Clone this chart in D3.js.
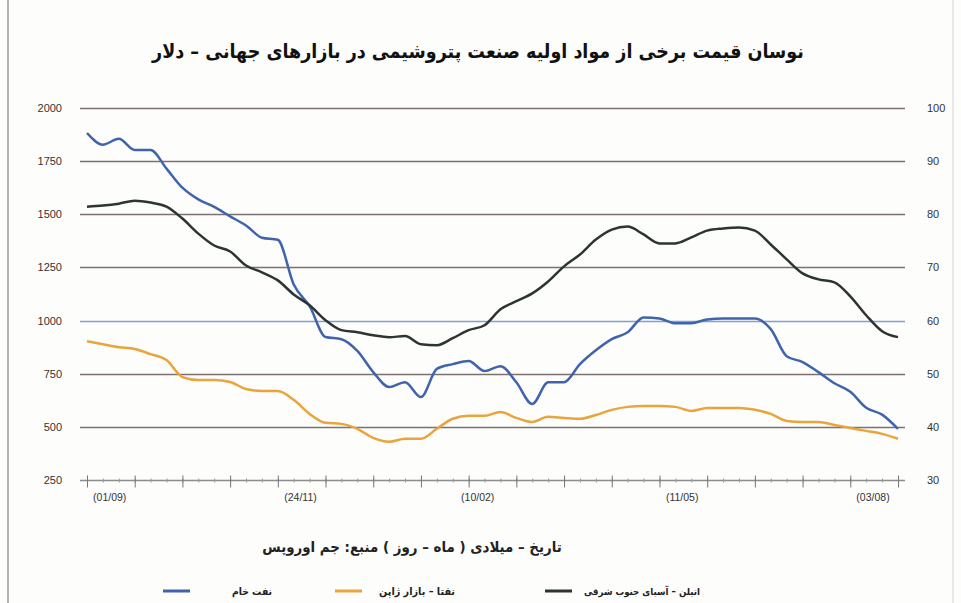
<!DOCTYPE html>
<html>
<head>
<meta charset="utf-8">
<script src="https://cdn.jsdelivr.net/npm/d3@7"></script>
<style>
    body { margin: 0; background: #fff; }
    svg { display: block; }
</style>
</head>
<body>
<div id="chart"></div>
<script>
// weekly observations
const dates = [
    '2014-08-22', '2014-08-29', '2014-09-05', '2014-09-12', '2014-09-19', '2014-09-26',
    '2014-10-03', '2014-10-10', '2014-10-17', '2014-10-24', '2014-10-31', '2014-11-07',
    '2014-11-14', '2014-11-21', '2014-11-28', '2014-12-05', '2014-12-12', '2014-12-19',
    '2014-12-26', '2015-01-02', '2015-01-09', '2015-01-16', '2015-01-23', '2015-01-30',
    '2015-02-06', '2015-02-13', '2015-02-20', '2015-02-27', '2015-03-06', '2015-03-13',
    '2015-03-20', '2015-03-27', '2015-04-03', '2015-04-10', '2015-04-17', '2015-04-24',
    '2015-05-01', '2015-05-08', '2015-05-15', '2015-05-22', '2015-05-29', '2015-06-05',
    '2015-06-12', '2015-06-19', '2015-06-26', '2015-07-03', '2015-07-10', '2015-07-17',
    '2015-07-24', '2015-07-31', '2015-08-07', '2015-08-14'
];

// ethylene, south-east Asia ($/t, left axis)
const ethylene = [
    1536, 1541, 1550, 1564, 1555, 1536, 1480, 1409, 1353, 1325, 1259, 1227,
    1189, 1123, 1072, 1002, 955, 945, 931, 922, 927, 889, 884, 917,
    955, 978, 1053, 1091, 1128, 1184, 1255, 1311, 1381, 1428, 1442, 1405,
    1363, 1363, 1391, 1423, 1433, 1438, 1423, 1358, 1288, 1222, 1194, 1180,
    1114, 1025, 950, 922
];

// naphtha, Japan ($/t, left axis)
const naphtha = [
    903, 889, 875, 866, 842, 814, 734, 720, 720, 711, 678, 669,
    669, 627, 561, 519, 514, 491, 448, 430, 444, 444, 491, 538,
    552, 552, 570, 542, 523, 547, 542, 538, 556, 580, 594, 598,
    598, 594, 575, 589, 589, 589, 580, 561, 528, 523, 523, 509,
    495, 481, 467, 444
];

// crude oil ($/bbl, right axis)
const crude = [
    95.3, 93.1, 94.2, 92.1, 92.1, 88.6, 85.0, 82.8, 81.4, 79.6, 77.9, 75.6,
    75.2, 66.8, 62.7, 56.9, 56.5, 54.3, 50.3, 47.5, 48.4, 45.6, 50.9, 51.8,
    52.4, 50.5, 51.4, 48.4, 44.3, 48.4, 48.4, 51.8, 54.4, 56.5, 57.8, 60.6,
    60.4, 59.5, 59.5, 60.2, 60.4, 60.4, 60.4, 58.4, 53.3, 52.2, 50.3, 48.2,
    46.6, 43.6, 42.3, 39.6
];

const leftTicks = [250, 500, 750, 1000, 1250, 1500, 1750, 2000];
const rightTicks = [30, 40, 50, 60, 70, 80, 90, 100];
const xLabelDates = ['2014-09-01', '2014-11-24', '2015-02-10', '2015-05-11', '2015-08-03'];
const xLabels = ['01/09', '24/11', '10/02', '11/05', '03/08'];

const title = 'نوسان قیمت برخی از مواد اولیه صنعت پتروشیمی در بازارهای جهانی – دلار';
const note = 'تاریخ – میلادی  ( ماه – روز )     منبع: جم اوروپس';
const seriesNames = ['اتیلن – آسیای جنوب شرقی', 'نفتا – بازار ژاپن', 'نفت خام'];
const seriesColors = ['#2c3531', '#e9a43c', '#4064ab'];

const width = 961,
    height = 603,
    margins = { left: 87, right: 63, top: 108, bottom: 123 };

const parse = d3.timeParse('%Y-%m-%d');
const days = dates.map(parse);

const svg = d3.select('#chart').append('svg')
    .attr('width', width)
    .attr('height', height)
    .style('font-family', '"Liberation Sans", Arial, sans-serif');

svg.append('rect')
    .attr('width', width)
    .attr('height', height)
    .attr('fill', '#fdfdfc');

// page border
svg.append('line')
    .attr('x1', 8).attr('x2', 8).attr('y1', 0).attr('y2', height)
    .attr('stroke', '#9a9a9a').attr('stroke-width', 1.5);
svg.append('line')
    .attr('x1', 953).attr('x2', 953).attr('y1', 0).attr('y2', height)
    .attr('stroke', '#d4d4d4').attr('stroke-width', 1);

const x = d3.scaleTime()
    .domain(d3.extent(days))
    .range([margins.left, width - margins.right - 0]);

const yLeft = d3.scaleLinear()
    .domain([250, 2000])
    .range([height - margins.bottom + 0, margins.top]);

const yRight = d3.scaleLinear()
    .domain([30, 100])
    .range(yLeft.range());

// gridlines
const grid = svg.append('g').attr('class', 'grid');
grid.selectAll('line')
    .data(leftTicks)
    .enter().append('line')
    .attr('x1', 80)
    .attr('x2', 905)
    .attr('y1', d => Math.round(yLeft(d)) + 0.5)
    .attr('y2', d => Math.round(yLeft(d)) + 0.5)
    .attr('stroke', d => d === 1000 ? '#7f9fd6' : (d === 250 ? '#8d8d8d' : '#7e7070'))
    .attr('stroke-width', 1.4);

// left labels
svg.append('g')
    .selectAll('text')
    .data(leftTicks)
    .enter().append('text')
    .attr('x', 62)
    .attr('y', d => yLeft(d) + 4)
    .attr('text-anchor', 'end')
    .attr('font-size', 11)
    .attr('fill', '#333')
    .text(d => d);

// right labels
svg.append('g')
    .selectAll('text')
    .data(rightTicks)
    .enter().append('text')
    .attr('x', 927)
    .attr('y', d => yRight(d) + 4)
    .attr('font-size', 11)
    .attr('fill', '#333')
    .text(d => d);

// x axis: weekly minor ticks, three-weekly major ticks
const axisY = Math.round(yLeft(250)) + 0.5;

const minorAxis = d3.axisBottom(x)
    .tickValues(days)
    .tickSize(4)
    .tickFormat('');

svg.append('g')
    .attr('transform', 'translate(0, ' + (axisY - 2) + ')')
    .call(minorAxis)
    .call(g => g.select('.domain').remove())
    .selectAll('line').attr('stroke', '#9a9a9a');

const majorAxis = d3.axisBottom(x)
    .tickValues(days.filter((d, i) => i % 3 === 0))
    .tickSize(12)
    .tickFormat('');

svg.append('g')
    .attr('transform', 'translate(0, ' + (axisY - 5) + ')')
    .call(majorAxis)
    .call(g => g.select('.domain').remove())
    .selectAll('line').attr('stroke', '#777');

svg.append('g')
    .selectAll('text')
    .data(xLabelDates)
    .enter().append('text')
    .attr('x', d => x(parse(d)))
    .attr('y', 501)
    .attr('text-anchor', 'middle')
    .attr('font-size', 10.5)
    .attr('fill', '#333')
    .text((d, i) => '(' + xLabels[i] + ')');

// series
const line = (scale) => d3.line()
    .x((d, i) => x(days[i]))
    .y(d => scale(d))
    .curve(d3.curveMonotoneX);

const lines = [
    { values: naphtha, scale: yLeft, color: seriesColors[1] },
    { values: crude, scale: yRight, color: seriesColors[2] },
    { values: ethylene, scale: yLeft, color: seriesColors[0] }
];

lines.forEach(s => {
    svg.append('path')
        .datum(s.values)
        .attr('fill', 'none')
        .attr('stroke', s.color)
        .attr('stroke-width', 2.5)
        .attr('stroke-linejoin', 'round')
        .attr('d', line(s.scale));
});

// fit arabic text to a given width
const fitText = (sel, targetWidth) => {
    const w = sel.node().getComputedTextLength();
    const size = parseFloat(sel.attr('font-size'));
    sel.attr('font-size', size * targetWidth / w);
};

const arabicFont = '"DejaVu Sans Condensed", "DejaVu Sans", sans-serif';

const titleText = svg.append('text')
    .attr('x', 478)
    .attr('y', 58)
    .attr('text-anchor', 'middle')
    .attr('direction', 'rtl')
    .attr('font-family', arabicFont)
    .attr('font-weight', 'bold')
    .attr('font-size', 17)
    .attr('fill', '#111')
    .text(title);
fitText(titleText, 652);

const noteText = svg.append('text')
    .attr('x', 412)
    .attr('y', 552)
    .attr('text-anchor', 'middle')
    .attr('direction', 'rtl')
    .attr('font-family', arabicFont)
    .attr('font-weight', 'bold')
    .attr('font-size', 10)
    .attr('fill', '#222')
    .text(note);
fitText(noteText, 300);

// legend (right to left)
const legendItems = [
    { name: seriesNames[0], color: seriesColors[0], textRight: 700, textWidth: 116, dash: 545 },
    { name: seriesNames[1], color: seriesColors[1], textRight: 455, textWidth: 76, dash: 335 },
    { name: seriesNames[2], color: seriesColors[2], textRight: 272, textWidth: 40, dash: 163 }
];

legendItems.forEach(d => {
    svg.append('line')
        .attr('x1', d.dash)
        .attr('x2', d.dash + 27)
        .attr('y1', 591)
        .attr('y2', 591)
        .attr('stroke', d.color)
        .attr('stroke-width', 3);

    const t = svg.append('text')
        .attr('x', d.textRight)
        .attr('y', 595)
        .attr('text-anchor', 'start')
        .attr('direction', 'rtl')
        .attr('font-family', arabicFont)
        .attr('font-weight', 'bold')
        .attr('font-size', 10)
        .attr('fill', '#222')
        .text(d.name);
    fitText(t, d.textWidth);
});
</script>
</body>
</html>
